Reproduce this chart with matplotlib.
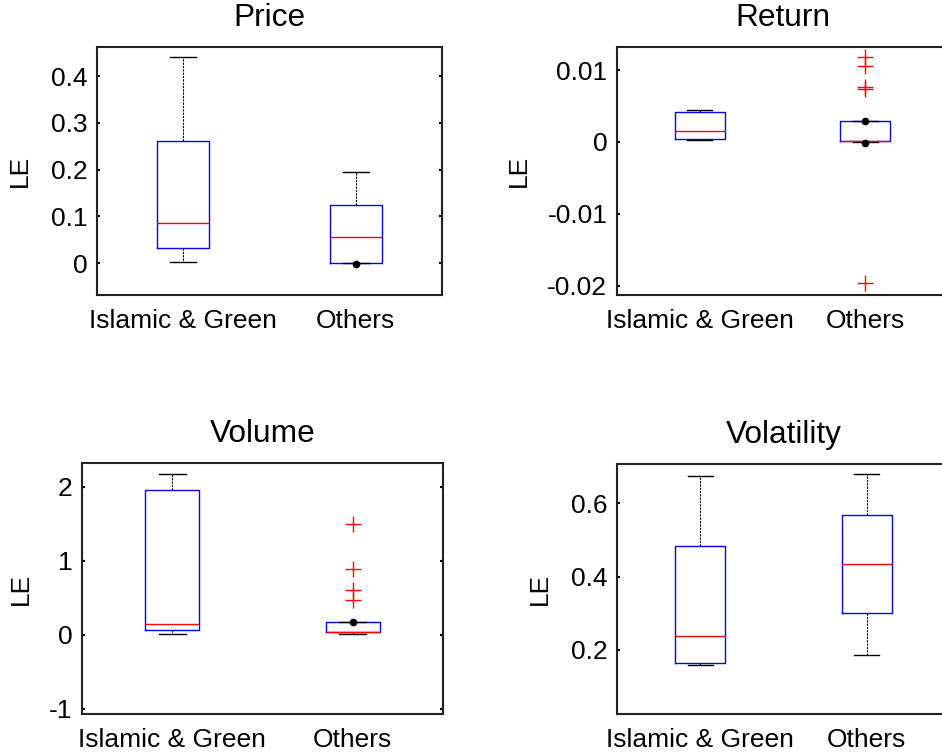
import matplotlib
matplotlib.use("Agg")
import matplotlib.pyplot as plt
from matplotlib.ticker import FormatStrFormatter

plt.rcParams['font.family'] = ['Liberation Sans', 'DejaVu Sans']
plt.rcParams['font.size'] = 19

groups = ["Islamic & Green", "Others"]
titles = ["Price", "Return", "Volume", "Volatility"]

# per panel: [Islamic & Green, Others]
q1 = [[0.0335, 0.001], [0.00047, 0.0001], [0.068, 0.035], [0.163, 0.301]]
med = [[0.0856, 0.055], [0.00158, 0.00012], [0.149, 0.04], [0.237, 0.435]]
q3 = [[0.261, 0.1248], [0.00413, 0.00297], [1.96, 0.18], [0.484, 0.568]]
whislo = [[0.0015, 0.001], [0.0002, 0.0], [0.008, 0.012], [0.158, 0.186]]
whishi = [[0.441, 0.195], [0.0045, 0.00297], [2.18, 0.18], [0.675, 0.682]]
fliers = [
    [[], []],
    [[], [0.0118, 0.0105, 0.0077, 0.0074, -0.0197]],
    [[], [1.5, 0.89, 0.61, 0.47]],
    [[], []],
]
dots = [[[], [-0.001]], [[], [0.0029, -0.0001]], [[], [0.17]], [[], []]]

ylims = [(-0.068, 0.462), (-0.0213, 0.0132), (-1.068, 2.324), (0.024, 0.708)]
yticks = [[0, 0.1, 0.2, 0.3, 0.4], [-0.02, -0.01, 0, 0.01], [-1, 0, 1, 2], [0.2, 0.4, 0.6]]

W, H = 942, 756
# axes boxes in pixels: left, top, right, bottom
boxes = [(97, 47, 442, 295), (617, 47, 948, 295), (82, 463, 443, 714), (617, 464, 950, 714)]
label_x = [32, 531, 33, 552]

fig = plt.figure(figsize=(W / 100, H / 100), dpi=100)

for k in range(4):
    l, t, r, b = boxes[k]
    ax = fig.add_axes([l / W, (H - b) / H, (r - l) / W, (b - t) / H])
    stats = []
    for g in range(2):
        stats.append(dict(med=med[k][g], q1=q1[k][g], q3=q3[k][g],
                          whislo=whislo[k][g], whishi=whishi[k][g],
                          fliers=fliers[k][g], label=groups[g]))
    ax.bxp(stats, positions=[1, 2], widths=0.3, capwidths=0.15,
           boxprops=dict(color='blue', linewidth=1.0),
           medianprops=dict(color='red', linewidth=1.0),
           whiskerprops=dict(color='black', linestyle=(0, (2, 1)), linewidth=0.8),
           capprops=dict(color='black', linewidth=1.0),
           flierprops=dict(marker='+', markeredgecolor='red', markersize=12,
                           markeredgewidth=1.0, linestyle='none'))
    for g in range(2):
        if dots[k][g]:
            ax.plot([g + 1] * len(dots[k][g]), dots[k][g], 'o', color='black',
                    markersize=4.5, zorder=5)
    ax.set_xlim(0.5, 2.5)
    ax.set_ylim(*ylims[k])
    ax.set_yticks(yticks[k])
    ax.yaxis.set_major_formatter(FormatStrFormatter('%g'))
    ax.tick_params(axis='y', direction='in', left=True, right=True, length=2.5,
                   width=1.5, pad=7)
    ax.tick_params(axis='x', length=0, pad=10)
    for s in ax.spines.values():
        s.set_linewidth(1.5)
        s.set_color('#222222')
    ax.set_title(titles[k], pad=15)
    ax.set_ylabel("LE")
    ax.yaxis.set_label_coords((label_x[k] - l) / (r - l), 0.5)

fig.savefig("out.png", dpi=100)
